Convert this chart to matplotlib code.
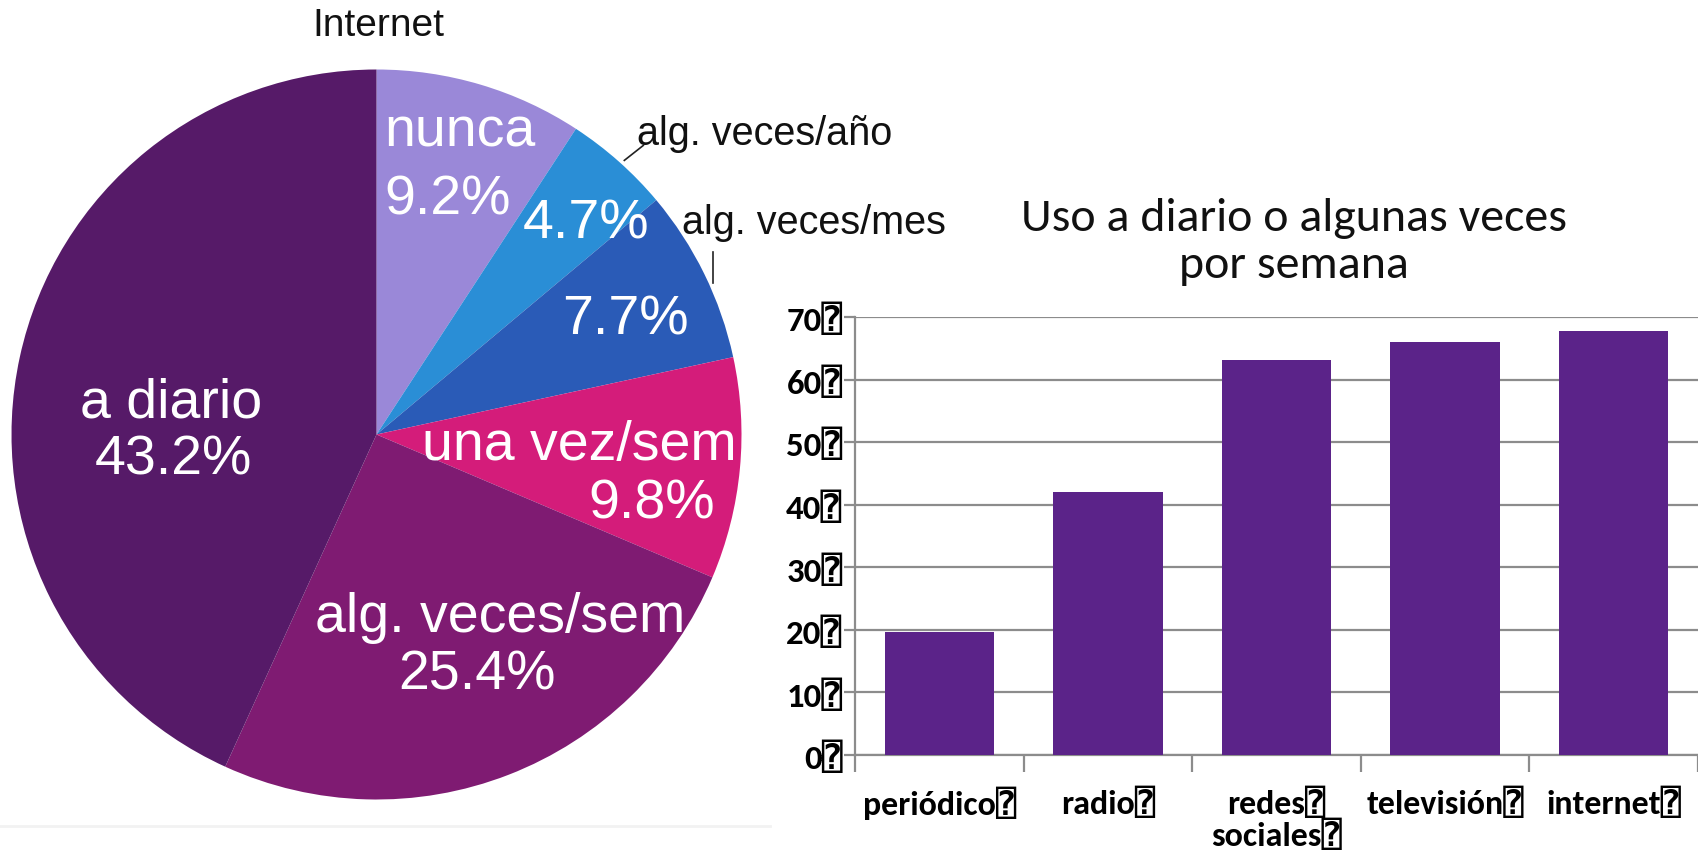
import matplotlib
matplotlib.use("Agg")
import matplotlib.pyplot as plt
import numpy as np

W, H = 1698, 857

# ---------------- data ----------------
pie_title = "Internet"
pie_labels = ["nunca", "alg. veces/año", "alg. veces/mes", "una vez/sem", "alg. veces/sem", "a diario"]
pie_values = [9.2, 4.7, 7.7, 9.8, 25.4, 43.2]
pie_colors = ["#9A88D8", "#2A8ED6", "#2A5BB7", "#D41C7A", "#7F1B72", "#561A68"]

bar_title = "Uso a diario o algunas veces\npor semana"
bar_categories = ["periódico⍰", "radio⍰", "redes⍰\nsociales⍰", "televisión⍰", "internet⍰"]
bar_values = [19.7, 42.1, 63.2, 66.0, 67.7]
y_ticks = [0, 10, 20, 30, 40, 50, 60, 70]
y_tick_labels = ["0⍰", "10⍰", "20⍰", "30⍰", "40⍰", "50⍰", "60⍰", "70⍰"]
bar_color = "#5B2389"

fig = plt.figure(figsize=(W / 100, H / 100), dpi=100)
fig.patch.set_facecolor("white")

HELV = ["Liberation Sans", "DejaVu Sans"]
COND = ["Carlito", "Liberation Sans Narrow", "Open Sans", "DejaVu Sans", "DejaVu Sans Mono"]

# ---------------- pie ----------------
cx, cy, R = 376.5, 434.5, 365.0
axp = fig.add_axes([(cx - R) / W, 1 - (cy + R) / H, 2 * R / W, 2 * R / H])
axp.pie(pie_values, colors=pie_colors, startangle=90, counterclock=False,
        radius=1.0, wedgeprops=dict(linewidth=0, edgecolor="none"))
axp.set_xlim(-1, 1)
axp.set_ylim(-1, 1)
axp.set_aspect("equal")
axp.axis("off")

big = 40
wt = dict(color="white", fontsize=big, family=HELV, va="baseline")
axp.text(0.022, 0.789, pie_labels[0], ha="left", **wt)
axp.text(0.022, 0.603, f"{pie_values[0]}%", ha="left", **wt)
axp.text(0.573, 0.537, f"{pie_values[1]}%", ha="center", **wt)
axp.text(0.682, 0.274, f"{pie_values[2]}%", ha="center", **wt)
axp.text(0.557, -0.071, pie_labels[3], ha="center", **wt)
axp.text(0.753, -0.230, f"{pie_values[3]}%", ha="center", **wt)
axp.text(0.340, -0.540, pie_labels[4], ha="center", **wt)
axp.text(0.276, -0.699, f"{pie_values[4]}%", ha="center", **wt)
axp.text(-0.562, 0.047, pie_labels[5], ha="center", **wt)
axp.text(-0.556, -0.110, f"{pie_values[5]}%", ha="center", **wt)

bk = dict(color="#111111", fontsize=28.5, family=HELV, va="baseline", ha="left", clip_on=False)
axp.text(0.715, 0.792, pie_labels[1], **bk)
axp.text(0.838, 0.550, pie_labels[2], **bk)
axp.plot([0.679, 0.731], [0.751, 0.792], color="#222222", lw=1.2, clip_on=False)
axp.plot([0.921, 0.921], [0.499, 0.416], color="#222222", lw=1.2, clip_on=False)

fig.text(378 / W, 1 - 26 / H, pie_title, ha="center", va="center", fontsize=28,
         family=HELV, color="#111111")

# faint screenshot border line
fig.add_artist(plt.Line2D([0, 770 / W], [1 - 826 / H, 1 - 826 / H], color="#F2F2F2", lw=2))

# ---------------- bar ----------------
left, right, top, bottom = 855, 1698, 317, 755
axb = fig.add_axes([left / W, 1 - bottom / H, (right - left) / W, (bottom - top) / H])
x = np.arange(len(bar_values))
axb.bar(x, bar_values, width=0.65, color=bar_color, zorder=3)
axb.set_xlim(-0.5, len(bar_values) - 0.5)
axb.set_ylim(0, 70)
gray = "#8C8C8C"
axb.set_yticks(y_ticks)
axb.set_yticklabels(y_tick_labels, family=COND, fontweight="bold", fontsize=25)
axb.yaxis.grid(True, color=gray, lw=1.6, zorder=0)
axb.tick_params(axis="y", length=8, width=1.6, color=gray, pad=1)
axb.set_xticks(np.arange(-0.5, len(bar_values), 1.0))
axb.set_xticklabels([])
axb.tick_params(axis="x", which="major", length=12, width=1.6, color=gray)
axb.set_xticks(x, minor=True)
axb.set_xticklabels(bar_categories, minor=True, family=COND, fontweight="bold", fontsize=24.5,
                    linespacing=0.98)
axb.tick_params(axis="x", which="minor", length=0, pad=23)
for s in ["top", "right"]:
    axb.spines[s].set_visible(False)
for s in ["left", "bottom"]:
    axb.spines[s].set_color(gray)
    axb.spines[s].set_linewidth(1.6)
axb.set_facecolor("none")

fig.text(1294 / W, 1 - 242 / H, bar_title, ha="center", va="center", fontsize=34.5,
         family=COND, color="#111111", linespacing=1.2)

fig.savefig("out.png", dpi=100, facecolor="white")
